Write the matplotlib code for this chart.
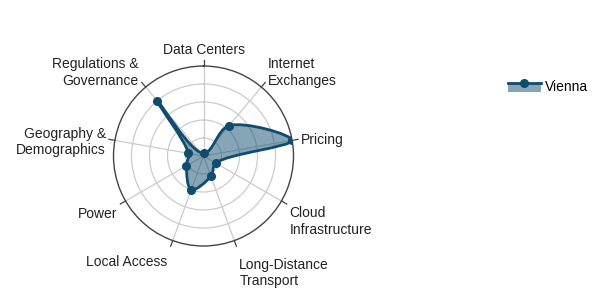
import numpy as np
import matplotlib
matplotlib.use("Agg")
import matplotlib.pyplot as plt
from matplotlib.path import Path
from matplotlib.patches import PathPatch, Rectangle
from matplotlib.lines import Line2D
from matplotlib.legend_handler import HandlerBase
from matplotlib.colors import to_rgba

plt.rcParams["font.family"] = ["Liberation Sans", "DejaVu Sans"]

# chart data, clockwise from the top
categories = ["Data Centers", "Internet\nExchanges", "Pricing", "Cloud\nInfrastructure",
              "Long-Distance\nTransport", "Local Access", "Power",
              "Geography &\nDemographics", "Regulations &\nGovernance"]
vienna = [3, 44, 100, 16, 24, 40, 22, 17, 80]
grid_levels = [20, 40, 60, 80]
r_max = 100
series_name = "Vienna"

LINE = "#0f4c6e"
FILL = to_rgba(LINE, 0.5)
GRID = "#cccccc"
DARK = "#444444"


def make_tangent(prev, cur, nxt, smoothness=1.0):
    # same rule plotly uses for its "spline" line shape
    d1 = prev - cur
    d2 = nxt - cur
    d1a = np.hypot(*d1) ** 0.5
    d2a = np.hypot(*d2) ** 0.5
    num = (d2a * d2a * d1 - d1a * d1a * d2) * smoothness
    denom1 = 3 * d2a * (d1a + d2a)
    denom2 = 3 * d1a * (d1a + d2a)
    t0 = cur + (num / denom1 if denom1 else 0)
    t1 = cur - (num / denom2 if denom2 else 0)
    return t0, t1


def smooth_closed_path(theta, r):
    # work in cartesian space, then send the bezier vertices back to polar coords
    pts = np.column_stack([r * np.sin(theta), r * np.cos(theta)])
    n = len(pts)
    tangents = [make_tangent(pts[i - 1], pts[i], pts[(i + 1) % n]) for i in range(n)]
    verts = [pts[0]]
    codes = [Path.MOVETO]
    for i in range(1, n + 1):
        verts += [tangents[i - 1][1], tangents[i % n][0], pts[i % n]]
        codes += [Path.CURVE4] * 3
    verts.append(pts[0])
    codes.append(Path.CLOSEPOLY)
    verts = np.array(verts)
    polar = np.column_stack([np.arctan2(verts[:, 0], verts[:, 1]),
                             np.hypot(verts[:, 0], verts[:, 1])])
    return Path(polar, codes)


class FilledLineHandler(HandlerBase):
    def create_artists(self, legend, orig_handle, xdescent, ydescent,
                       width, height, fontsize, trans):
        y_line = -ydescent + 0.8 * height
        box = Rectangle((-xdescent, y_line - 0.95 * height), width, 0.95 * height,
                        facecolor=FILL, edgecolor="none", transform=trans)
        line = Line2D([-xdescent, width - xdescent], [y_line, y_line],
                      color=LINE, lw=2, transform=trans)
        dot = Line2D([width / 2 - xdescent], [y_line], marker="o", ms=5.5,
                     color=LINE, lw=0, transform=trans)
        return [box, line, dot]


fig = plt.figure(figsize=(6.0, 3.08), dpi=100)
ax = fig.add_axes([0.18917, 0.2013, 0.3, 0.5844], projection="polar")
ax.set_theta_zero_location("N")
ax.set_theta_direction(-1)

theta = np.linspace(0, 2 * np.pi, len(categories), endpoint=False)
values = np.array(vienna, dtype=float)

path = smooth_closed_path(theta, values)
ax.add_patch(PathPatch(path, facecolor=FILL, edgecolor="none", zorder=2))
ax.add_patch(PathPatch(path, facecolor="none", edgecolor=LINE, lw=2, zorder=3))
ax.plot(theta, values, "o", ms=5.5, color=LINE, zorder=4)

# tick marks sticking out of the outer circle
for t in theta:
    ax.plot([t, t], [r_max, r_max * 1.067], color=DARK, lw=0.9, clip_on=False, zorder=1)

ax.set_ylim(0, r_max)
ax.set_rgrids(grid_levels, labels=[])
ax.set_xticks(theta)
ax.set_xticklabels([])
ax.tick_params(axis="both", length=0)
ax.xaxis.grid(True, color=GRID, lw=0.9)
ax.yaxis.grid(True, color=GRID, lw=0.9)
ax.spines["polar"].set_color(DARK)
ax.spines["polar"].set_linewidth(1.0)
ax.set_axisbelow(True)

# category labels, anchored like plotly does it
for t, label in zip(theta, categories):
    sin_phi = np.cos(t)
    cos_phi = np.sin(t)
    if cos_phi > 0.1:
        ha, dx = "left", 3
    elif cos_phi < -0.1:
        ha, dx = "right", -3
    else:
        ha, dx = "center", 0
    h = 16.7 * (label.count("\n") + 1)
    down = 0.2 * h - sin_phi * (h / 2 + 5)
    ax.annotate(label, xy=(t, r_max * 1.067), xytext=(dx, -down),
                textcoords="offset pixels", ha=ha, va="center",
                fontsize=10, color="#222222", annotation_clip=False)

proxy = Line2D([], [])
fig.legend(handles=[proxy], labels=[series_name],
           handler_map={proxy: FilledLineHandler()},
           loc="center left", bbox_to_anchor=(508 / 600, 1 - 87 / 308),
           frameon=False, borderpad=0, borderaxespad=0,
           handlelength=2.37, handletextpad=0.3, fontsize=10)

fig.savefig("out.png", dpi=100)
